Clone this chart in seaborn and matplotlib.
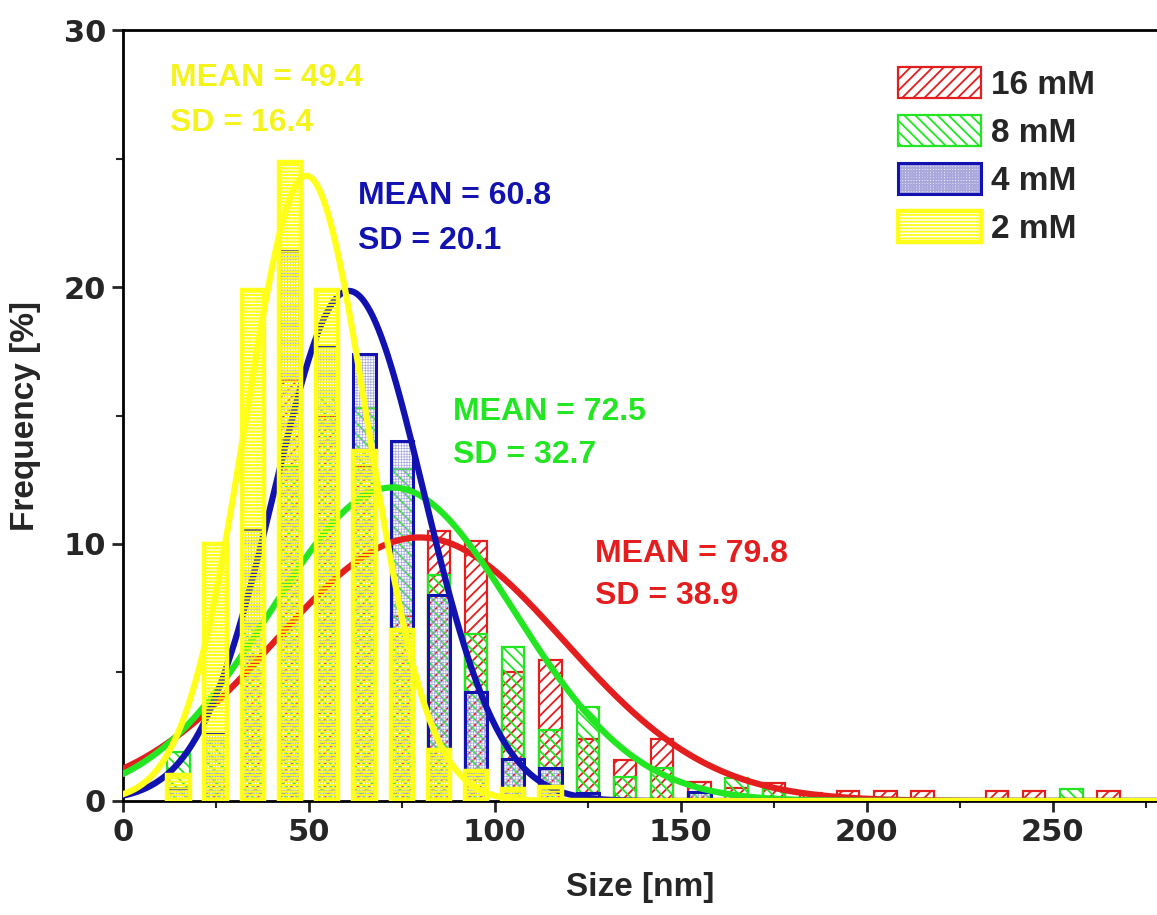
import numpy as np
import pandas as pd
import matplotlib
matplotlib.use("Agg")
import matplotlib.pyplot as plt
from matplotlib.patches import Patch
from matplotlib.ticker import MultipleLocator
from matplotlib.legend_handler import HandlerTuple
import seaborn as sns

# ---------------- data ----------------
bin_centers = [15, 25, 35, 45, 55, 65, 75, 85, 95, 105, 115, 125, 135, 145,
               155, 165, 175, 185, 195, 205, 215, 225, 235, 245, 255, 265]
freq_16mM = [0, 0.75, 5.6, 16.4, 15.0, 13.0, 7.2, 10.5, 10.1, 5.0, 5.5, 2.4, 1.6, 2.4,
             0.75, 0.5, 0.7, 0.3, 0.38, 0.38, 0.38, 0, 0.38, 0.38, 0, 0.38]
freq_8mM = [1.9, 2.35, 6.9, 13.0, 15.7, 15.3, 12.9, 8.8, 6.5, 6.0, 2.75, 3.65, 0.95, 1.3,
            0.3, 0.9, 0.45, 0, 0, 0, 0, 0, 0, 0, 0.45, 0]
freq_4mM = [0.5, 2.6, 10.6, 21.4, 17.65, 17.4, 14.0, 8.0, 4.25, 1.65, 1.3, 0.3, 0, 0,
            0.35, 0, 0, 0, 0, 0, 0, 0, 0, 0, 0, 0]
freq_2mM = [1.0, 10.0, 19.9, 24.85, 19.9, 13.6, 6.65, 2.0, 1.15, 0.45, 0.55, 0, 0, 0,
            0, 0, 0, 0, 0, 0, 0, 0, 0, 0, 0, 0]

series_labels = ["16 mM", "8 mM", "4 mM", "2 mM"]
fit_means = [79.8, 72.5, 60.8, 49.4]
fit_sds = [38.9, 32.7, 20.1, 16.4]
bin_width = 10

colors = ["#E41E1E", "#22E622", "#1212B0", "#FFFF1A"]
hatch_colors = ["#E41E1E", "#22E622", "#A8A8DC", "#FFFF1A"]
text_colors = ["#E41E1E", "#22E622", "#1212B0", "#F4F41C"]
hatches = ["///", "\\\\\\", "++++++", "-----"]
edge_lw = [1.6, 1.6, 2.2, 3.2]
hatch_lw = [1.3, 1.3, 0.5, 1.6]
bar_z = [2.0, 2.1, 2.2, 4.0]
curve_z = [3.0, 3.1, 3.2, 5.0]

# ---------------- style ----------------
sns.set_style("ticks")
plt.rcParams['font.family'] = ['Liberation Sans', 'DejaVu Sans']
plt.rcParams['hatch.linewidth'] = 1.3

fig = plt.figure(figsize=(11.57, 9.15), dpi=100)
ax = fig.add_axes([0.106, 0.1246, 0.894, 0.8426])

all_freqs = [freq_16mM, freq_8mM, freq_4mM, freq_2mM]


def draw_bars(df, color, hatch, hcolor, lw, hlw, z):
    n0 = len(ax.patches)
    sns.barplot(data=df, x="size", y="freq", native_scale=True, width=0.6,
                errorbar=None, color=color, ax=ax)
    for p in ax.patches[n0:]:
        p.set_facecolor("none")
        p.set_edgecolor(hcolor)
        p.set_hatch(hatch)
        p.set_linewidth(lw)
        p.set_zorder(z)
        if hasattr(p, "set_hatch_linewidth") and hatch:
            p.set_hatch_linewidth(hlw)
        if hcolor != color:
            p.set_linewidth(0)


for i, freqs in enumerate(all_freqs):
    df = pd.DataFrame({"size": bin_centers, "freq": freqs})
    df = df[df["freq"] > 0]
    if hatch_colors[i] != colors[i]:
        # light hatch layer, then dark outline
        draw_bars(df, colors[i], hatches[i], hatch_colors[i], 0, hatch_lw[i], bar_z[i])
        draw_bars(df, colors[i], None, colors[i], edge_lw[i], hatch_lw[i], bar_z[i] + 0.01)
    else:
        draw_bars(df, colors[i], hatches[i], colors[i], edge_lw[i], hatch_lw[i], bar_z[i])

xs = np.linspace(0, 278, 700)
for i in range(4):
    amp = bin_width * 100 / (fit_sds[i] * np.sqrt(2 * np.pi))
    ys = amp * np.exp(-0.5 * ((xs - fit_means[i]) / fit_sds[i]) ** 2)
    sns.lineplot(x=xs, y=ys, color=colors[i], lw=4.5, ax=ax, zorder=curve_z[i])

# annotations
ann = [
    (12.7, 28.13, 26.38, 3),
    (63.2, 23.54, 21.8, 2),
    (88.8, 15.14, 13.46, 1),
    (127.0, 9.61, 7.98, 0),
]
for x0, y1, y2, i in ann:
    ax.text(x0, y1, f"MEAN = {fit_means[i]}", color=text_colors[i],
            fontsize=23, fontweight="bold", ha="left", va="center", zorder=6)
    ax.text(x0, y2, f"SD = {fit_sds[i]}", color=text_colors[i],
            fontsize=23, fontweight="bold", ha="left", va="center", zorder=6)

# axes
ax.set_xlim(0, 278)
ax.set_ylim(0, 30)
ax.set_xticks([0, 50, 100, 150, 200, 250])
ax.set_yticks([0, 10, 20, 30])
ax.xaxis.set_minor_locator(MultipleLocator(25))
ax.yaxis.set_minor_locator(MultipleLocator(5))
ax.tick_params(which="major", direction="out", length=8, width=2, pad=4, labelsize=22)
ax.tick_params(which="minor", direction="out", length=5, width=1.5)
for lbl in ax.get_xticklabels() + ax.get_yticklabels():
    lbl.set_fontfamily("DejaVu Sans")
    lbl.set_fontweight("bold")
for s in ["left", "bottom", "top"]:
    ax.spines[s].set_linewidth(2)
    ax.spines[s].set_color("black")
ax.spines["right"].set_visible(False)
ax.set_xlabel("Size [nm]", fontsize=24, fontweight="bold", labelpad=18)
ax.set_ylabel("Frequency [%]", fontsize=24, fontweight="bold", labelpad=16)

handles = []
for i in range(4):
    if hatch_colors[i] != colors[i]:
        h1 = Patch(facecolor="none", edgecolor=hatch_colors[i], hatch=hatches[i], linewidth=0)
        h2 = Patch(facecolor="none", edgecolor=colors[i], linewidth=edge_lw[i])
        handles.append((h1, h2))
    else:
        handles.append(Patch(facecolor="none", edgecolor=colors[i], hatch=hatches[i],
                             linewidth=edge_lw[i]))
leg = ax.legend(handles, series_labels, loc="upper left", bbox_to_anchor=(0.727, 0.982),
                frameon=False, fontsize=24, handlelength=2.5, handleheight=1.05,
                handletextpad=0.3, labelspacing=0.42, borderpad=0.2,
                handler_map={tuple: HandlerTuple(ndivide=1, pad=0)})
for t in leg.get_texts():
    t.set_fontweight("bold")

fig.savefig("out.png", dpi=100)
